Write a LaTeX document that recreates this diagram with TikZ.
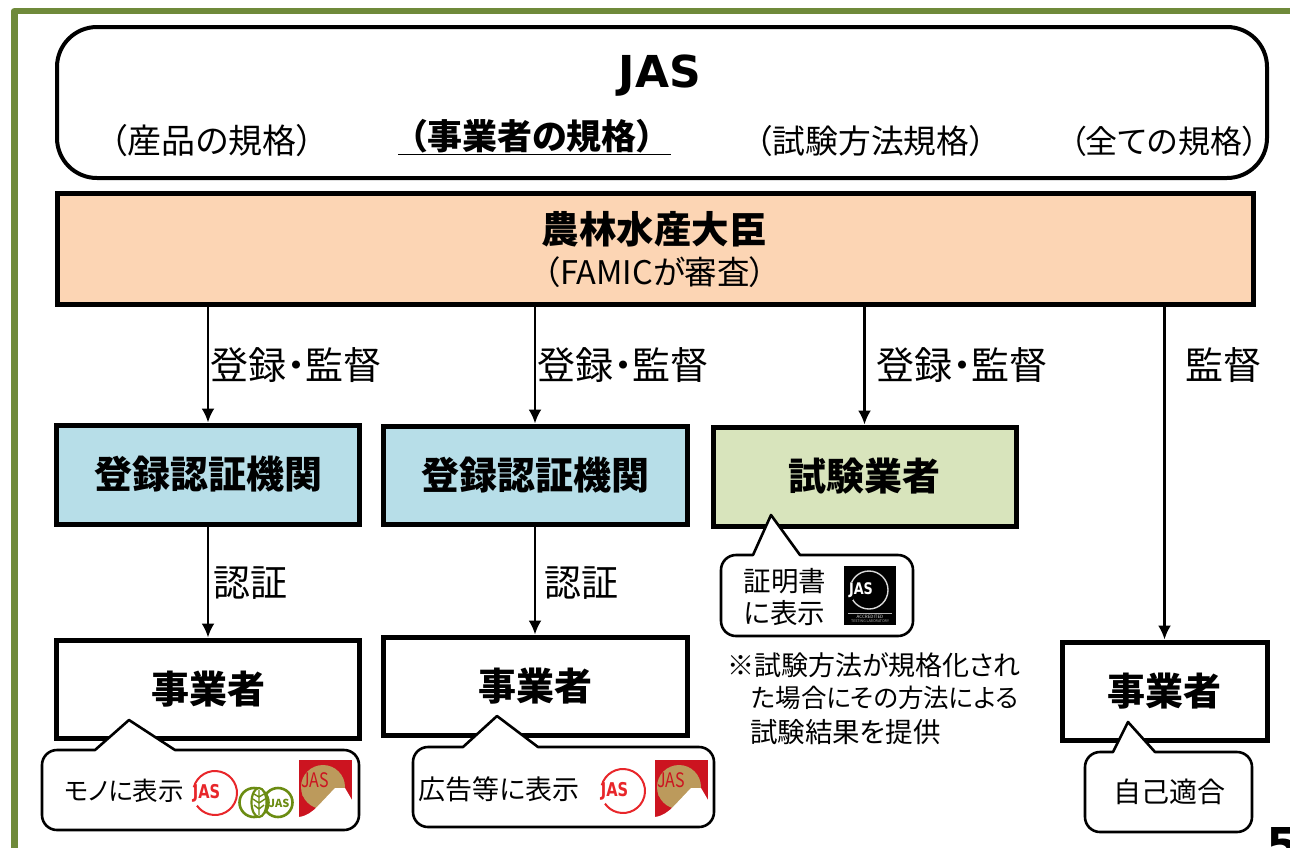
\documentclass[tikz,border=0pt]{standalone}
\usepackage{fontspec}
\setmainfont{Noto Sans CJK JP}[RawFeature=+palt]
\newfontfamily\latinbold{DejaVu Sans}[BoldFont={DejaVu Sans Bold}]
\usetikzlibrary{calc,arrows.meta}
\definecolor{frameolive}{HTML}{6F8A3A}
\definecolor{peach}{HTML}{FCD5B4}
\definecolor{paleblue}{HTML}{B7DEE8}
\definecolor{palegreen}{HTML}{D8E4BC}
\definecolor{jasred}{HTML}{E8262A}
\definecolor{fujired}{HTML}{CC1420}
\definecolor{fujigold}{HTML}{BC9A5C}
\definecolor{organic}{HTML}{6B8C12}
\newcommand{\fsz}[1]{\fontsize{#1pt}{#1pt}\selectfont}
\newcommand{\rb}[1]{\raisebox{2pt}{#1}}
\tikzset{
  box/.style={draw=black,line width=5pt,inner sep=0pt,align=center,minimum width=#1},
  lbl/.style={inner sep=0pt,align=center},
  flow/.style={draw=black,line width=2.4pt,-{Latex[length=14pt,width=13pt]}},
  bubble/.style={draw=black,line width=2.6pt,fill=white,line join=round},
  boldbox/.style={font=\fsz{38}\bfseries},
  flowlabel/.style={lbl,font=\fsz{38}},
}
% #1 x1, #2 y1, #3 x2, #4 y2, #5 base left, #6 tip x, #7 tip y, #8 base right
\newcommand{\bubblepath}[8]{%
  \draw[bubble] (#8,#2) [rounded corners=15pt] -- (#3,#2) -- (#3,#4) -- (#1,#4) -- (#1,#2) [sharp corners] -- (#5,#2) -- (#6,#7) -- cycle;}
% #1 name, #2 circle centre x, #3 y
\newcommand{\jascircle}[3]{%
  \draw[jasred,line width=2pt] ($(#2,#3)+(165:22pt)$) arc[start angle=165,end angle=-145,radius=22pt];
  \node[lbl,text=jasred,font=\latinbold\fsz{19}\bfseries,xscale=.77] (#1) at (#2-8.5,#3) {JAS};}
% #1 name, #2 left, #3 top
\newcommand{\fujimark}[3]{%
  \begin{scope}[shift={(#2,#3)}]
    \fill[fujired] (0,0) rectangle (53,57);
    \fill[fujigold] (24,27) circle (22pt);
    \fill[fujigold] (3,35) -- (18,47) -- (30,47) -- (24,20) -- cycle;
    \fill[white] (0,57) .. controls (8,56) and (14,51) .. (18,47) -- (36,28) -- (46,28) -- (53,40) -- (53,57) -- cycle;
    \node[lbl,text=fujired,font=\fsz{20},xscale=.8] (#1) at (16,20) {\textit{JAS}};
  \end{scope}}
\begin{document}
\begin{tikzpicture}[x=1pt,y=-1pt]
\useasboundingbox (0,0) rectangle (1290,847);
\clip (0,0) rectangle (1290,847);
\fill[white] (0,0) rectangle (1290,847);
% outer frame
\draw[frameolive,line width=6.5pt,line join=round] (14.5,860) -- (14.5,11) -- (1300,11);

% JAS panel
\draw[black,line width=4pt,rounded corners=40pt] (57,27) rectangle (1267,178);
\node[lbl,font=\latinbold\fsz{44}\bfseries] (jas) at (660,76) {JAS};
\node[lbl,font=\fsz{34}] (t1) at (212,141) {（産品の規格）};
\node[lbl,font=\fsz{35}\bfseries] (t2) at (532,136) {（事業者の規格）};
\node[lbl,font=\fsz{32.8}] (t3) at (871,141) {（試験方法規格）};
\node[lbl,font=\fsz{32}] (t4) at (1164,141) {（全ての規格）};
\coordinate (ul) at (398,154.5);
\coordinate (ur) at (671,154.5);
\draw[black,line width=1.6pt] (ul) -- (ur);

% minister
\node[box=1196pt,fill=peach,minimum height=111pt] (min) at (655,248.5) {};
\node[lbl,font=\fsz{37.5}\bfseries] (mint) at (654,229) {農林水産大臣};
\node[lbl,font=\fsz{32.5}] (mins) at (655,272) {（FAMICが審査）};

% row 2
\node[box=303pt,fill=paleblue,minimum height=99pt,boldbox] (a1) at (208,474.5) {\rb{登録認証機関}};
\node[box=304pt,fill=paleblue,minimum height=98pt,boldbox] (a2) at (535,475) {\rb{登録認証機関}};
\node[box=303pt,fill=palegreen,minimum height=99pt,boldbox] (a3) at (864.5,476.5) {\rb{試験業者}};

% row 3
\node[box=303pt,fill=white,minimum height=98pt,boldbox] (b1) at (208,689) {\rb{事業者}};
\node[box=304pt,fill=white,minimum height=98pt,boldbox] (b2) at (535,686) {\rb{事業者}};
\node[box=205pt,fill=white,minimum height=98pt,boldbox] (b4) at (1164.5,691) {\rb{事業者}};

% connectors
\draw[flow] (min.south -| a1.north) -- (a1.north);
\draw[flow] (min.south -| a2.north) -- (a2.north);
\draw[flow] (min.south -| a3.north) -- (a3.north);
\draw[flow] (min.south -| b4.north) -- (b4.north);
\draw[flow] (a1.south) -- (b1.north);
\draw[flow] (a2.south) -- (b2.north);

\node[flowlabel] (l1) at (296,365) {登録・監督};
\node[flowlabel] (l2) at (623,365) {登録・監督};
\node[flowlabel] (l3) at (962,365) {登録・監督};
\node[flowlabel] (l4) at (1223,365) {監督};
\node[flowlabel,font=\fsz{37}] (l5) at (250,583) {認証};
\node[flowlabel,font=\fsz{37}] (l6) at (581,583) {認証};

% callouts
\bubblepath{42}{750}{359}{830}{95}{129}{720}{175}
\node[lbl,font=\fsz{25.5}] (c1) at (124,791) {モノに表示};
\jascircle{j1}{215}{793}
\draw[organic,line width=2.6pt] (254,802.5) circle (14.5pt);
\draw[organic,line width=2.6pt] (278,802.5) circle (14.5pt);
\draw[organic,line width=2.2pt,fill=white] (259,802.5) ellipse [x radius=7.5pt,y radius=14.5pt];
\draw[organic,line width=1.4pt] (259,790) -- (259,815) (259,797) -- (254,794) (259,797) -- (264,794) (259,803) -- (253,799) (259,803) -- (265,799) (259,809) -- (254,805) (259,809) -- (264,805);
\node[lbl,text=organic,font=\fsz{11}\bfseries] (j2) at (279,803) {JAS};
\fujimark{f1}{299}{760}

\bubblepath{413}{747}{714}{827}{463}{497}{716}{538}
\node[lbl,font=\fsz{27}] (c2) at (499,789) {広告等に表示};
\jascircle{j3}{623}{791}
\fujimark{f2}{655}{760}

\bubblepath{721}{555}{913}{636}{753}{771}{515}{800}
\node[lbl,font=\fsz{27.5},align=left] (c3) at (785,597) {証明書\\[4pt]に表示};
\fill[black] (844,566) rectangle (896,625);
\draw[white!85!black,line width=1.4pt] (869,590) circle (19pt);
\fill[black] (845,582) rectangle (853,600);
\node[lbl,text=white,font=\latinbold\fsz{16}\bfseries,xscale=.8] (j4) at (861,590) {JAS};
\coordinate (kl) at (848,613);
\coordinate (kr) at (892,613);
\draw[white!70!black,line width=.7pt] (kl) -- (kr);
\node[lbl,text=white!85!black,font=\fsz{4.5}] (k1) at (870,617) {ACCREDITED};
\node[lbl,text=white!70!black,font=\fsz{3.6}] (k2) at (870,621.5) {TESTING LABORATORY};

\bubblepath{1085}{752}{1252}{832}{1113}{1128}{722}{1155}
\node[lbl,font=\fsz{28}] (c4) at (1169,792) {自己適合};

% note
\node[lbl,anchor=west,font=\fsz{27}] (n1) at (727,665) {※試験方法が規格化され};
\node[lbl,anchor=west,font=\fsz{25.5}] (n2) at (751,698) {た場合にその方法による};
\node[lbl,anchor=west,font=\fsz{27.5}] (n3) at (750,732) {試験結果を提供};

% page number
\node[lbl,anchor=base west,font=\latinbold\fsz{48}\bfseries] (pg) at (1266,862) {5};
\end{tikzpicture}
\end{document}
